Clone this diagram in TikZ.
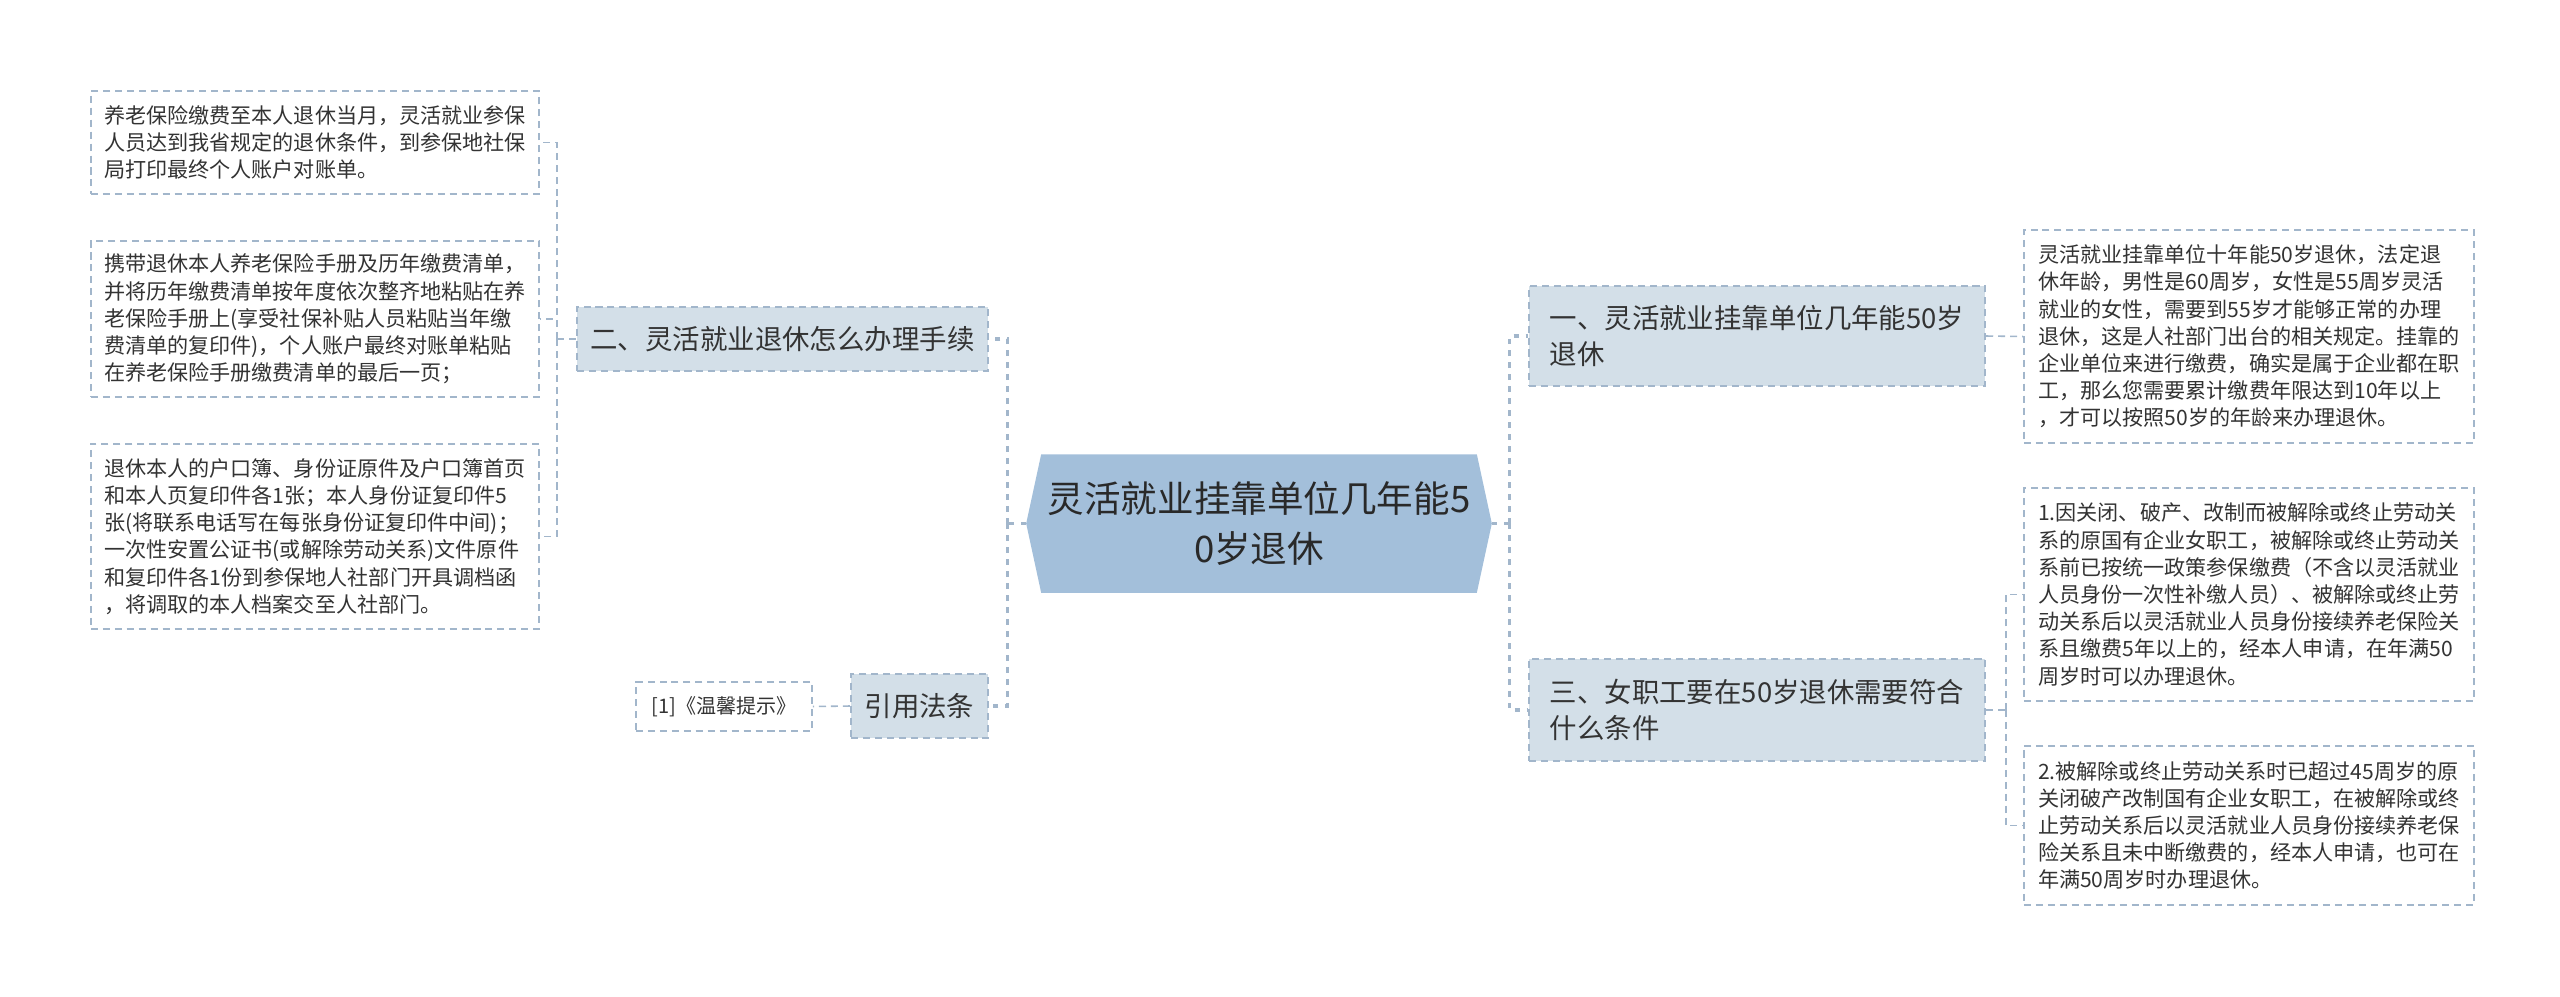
\documentclass[tikz,border=0pt]{standalone}
\usepackage{fontspec}
\setmainfont{Noto Sans CJK SC}
\usepackage{xcolor}
\usepackage{tikz}
\usetikzlibrary{positioning,calc,backgrounds}
\definecolor{hubcol}{HTML}{A3BFDA}
\definecolor{topiccol}{HTML}{D3DFE8}
\definecolor{linecol}{HTML}{A2B6CB}
\definecolor{inkc}{HTML}{333333}

\begin{document}
\begin{tikzpicture}[x=0.01cm,y=-0.01cm,
  leaf/.style={draw=linecol,dash pattern=on 2pt off 1.4pt,line width=0.45pt,
    fill=white,align=left,inner sep=0pt,text=inkc,
    font=\fontsize{6pt}{7.74pt}\selectfont},
  topic/.style={draw=linecol,dash pattern=on 2pt off 1.4pt,line width=0.6pt,
    fill=topiccol,align=left,inner sep=0pt,text=inkc,
    font=\fontsize{7.8pt}{10.4pt}\selectfont},
  trunk/.style={draw=linecol,line width=0.9pt,dash pattern=on 1.6pt off 1.8pt},
  twig/.style={draw=linecol,line width=0.45pt,dash pattern=on 2pt off 1.4pt},
]
\useasboundingbox (0,0) rectangle (2560,996);

% centre
\node[align=center,inner sep=0pt,minimum width=4.34cm,minimum height=1.37cm,
  text=inkc!80!black,font=\fontsize{10.4pt}{14.2pt}\selectfont] (ctr) at (1259,523.5)
  {灵活就业挂靠单位几年能5\\0岁退休};
\begin{scope}[on background layer]
\fill[hubcol] (ctr.north west) -- (ctr.north east) -- ($(ctr.east)+(15,0)$)
  -- (ctr.south east) -- (ctr.south west) -- ($(ctr.west)+(-15,0)$) -- cycle;
\end{scope}
\coordinate (hubL) at ($(ctr.west)+(-15,0)$);
\coordinate (hubR) at ($(ctr.east)+(15,0)$);

% left side
\node[topic,minimum width=4.11cm,minimum height=0.64cm] (b2) at (782.5,339)
  {二、灵活就业退休怎么办理手续};
\node[topic,minimum width=1.37cm,minimum height=0.64cm] (b4) at (919.5,706)
  {引用法条};
\node[leaf,minimum width=1.76cm,minimum height=0.49cm,
  font=\fontsize{5.7pt}{7pt}\selectfont] (cite) at (724,706.5) {[1]《温馨提示》};

\node[leaf,minimum width=4.48cm,minimum height=1.03cm] (l1) at (315,142.5)
  {养老保险缴费至本人退休当月，灵活就业参保\\
   人员达到我省规定的退休条件，到参保地社保\\
   局打印最终个人账户对账单。};
\node[leaf,minimum width=4.48cm,minimum height=1.56cm] (l2) at (315,319)
  {携带退休本人养老保险手册及历年缴费清单，\\
   并将历年缴费清单按年度依次整齐地粘贴在养\\
   老保险手册上(享受社保补贴人员粘贴当年缴\\
   费清单的复印件)，个人账户最终对账单粘贴\\
   在养老保险手册缴费清单的最后一页；};
\node[leaf,minimum width=4.48cm,minimum height=1.85cm] (l3) at (315,536.5)
  {退休本人的户口簿、身份证原件及户口簿首页\\
   和本人页复印件各1张；本人身份证复印件5\\
   张(将联系电话写在每张身份证复印件中间)；\\
   一次性安置公证书(或解除劳动关系)文件原件\\
   和复印件各1份到参保地人社部门开具调档函\\
   ，将调取的本人档案交至人社部门。};

% right side
\node[topic,minimum width=4.56cm,minimum height=1.00cm] (b1) at (1757,336)
  {一、灵活就业挂靠单位几年能50岁\\退休};
\node[topic,minimum width=4.56cm,minimum height=1.02cm] (b3) at (1757,710)
  {三、女职工要在50岁退休需要符合\\什么条件};

\node[leaf,minimum width=4.50cm,minimum height=2.13cm] (r1) at (2249,336.5)
  {灵活就业挂靠单位十年能50岁退休，法定退\\
   休年龄，男性是60周岁，女性是55周岁灵活\\
   就业的女性，需要到55岁才能够正常的办理\\
   退休，这是人社部门出台的相关规定。挂靠的\\
   企业单位来进行缴费，确实是属于企业都在职\\
   工，那么您需要累计缴费年限达到10年以上\\
   ，才可以按照50岁的年龄来办理退休。};
\node[leaf,minimum width=4.50cm,minimum height=2.13cm] (r2) at (2249,594.5)
  {1.因关闭、破产、改制而被解除或终止劳动关\\
   系的原国有企业女职工，被解除或终止劳动关\\
   系前已按统一政策参保缴费（不含以灵活就业\\
   人员身份一次性补缴人员）、被解除或终止劳\\
   动关系后以灵活就业人员身份接续养老保险关\\
   系且缴费5年以上的，经本人申请，在年满50\\
   周岁时可以办理退休。};
\node[leaf,minimum width=4.50cm,minimum height=1.59cm] (r3) at (2249,825.5)
  {2.被解除或终止劳动关系时已超过45周岁的原\\
   关闭破产改制国有企业女职工，在被解除或终\\
   止劳动关系后以灵活就业人员身份接续养老保\\
   险关系且未中断缴费的，经本人申请，也可在\\
   年满50周岁时办理退休。};

% connectors
\draw[trunk] (hubL) -- ++(-19,0) coordinate (lj)
  (lj) |- (b2.east) (lj) |- (b4.east);
\draw[trunk] (hubR) -- ++(18,0) coordinate (rj)
  (rj) |- (b1.west) (rj) |- (b3.west);
\draw[twig] (b2.west) -- ++(-19,0) coordinate (lk)
  (lk) |- (l1.east) (lk) |- (l2.east) (lk) |- (l3.east);
\draw[twig] (b4.west) -- (cite.east);
\draw[twig] (b1.east) -- (r1.west);
\draw[twig] (b3.east) -- ++(20,0) coordinate (rk)
  (rk) |- (r2.west) (rk) |- (r3.west);
\end{tikzpicture}
\end{document}
